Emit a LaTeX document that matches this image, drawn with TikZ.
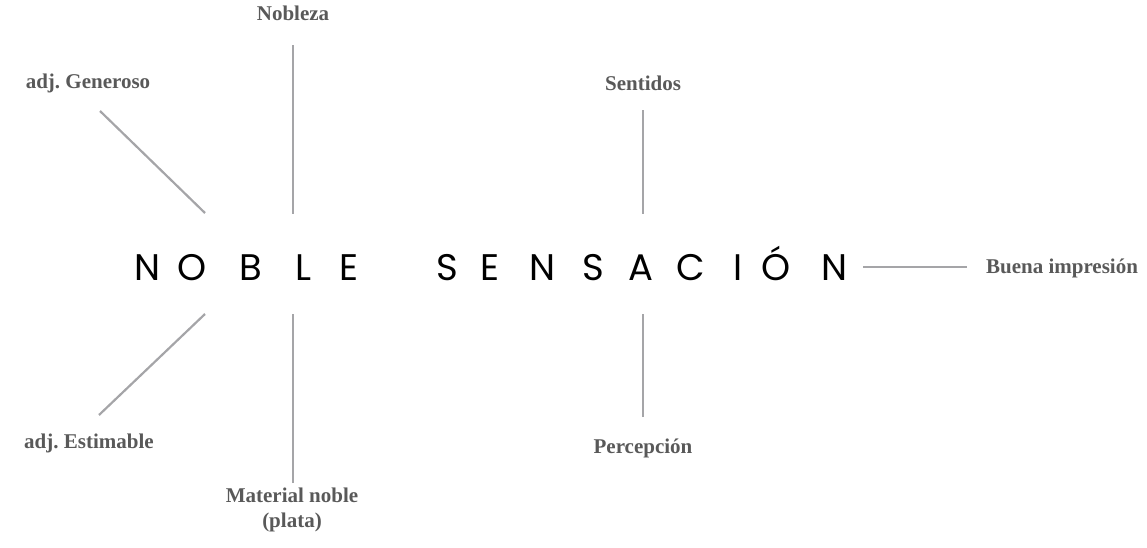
\documentclass[tikz,border=0pt]{standalone}
\usepackage{fontspec}
\setmainfont{Liberation Serif}
\newfontfamily\titlefont{Poppins}
\frenchspacing

\definecolor{labelgray}{HTML}{595959}
\definecolor{linegray}{HTML}{A5A5A8}

\tikzset{
  lab/.style={font=\fontsize{21}{25}\selectfont\bfseries, text=labelgray, align=center, inner sep=0pt},
  letter/.style={font=\titlefont\fontsize{37}{37}\selectfont, inner sep=0pt, anchor=base},
  link/.style={draw=linegray, line width=2.2pt},
}

\begin{document}
\begin{tikzpicture}[x=1pt,y=-1pt]
   \useasboundingbox (0,0) rectangle (1147,547);

   % title, letter by letter
   \foreach \ch/\x [count=\i] in {N/148,O/192,B/251,L/303,E/349,S/447,E/490,N/542,S/593,A/641,C/691,I/738,Ó/776,N/834}
      \node[letter] (t\i) at (\x,280) {\ch};

   \node[lab] (nobleza) at (293,13) {Nobleza};
   \node[lab] (generoso) at (88,83) {adj. Generoso};
   \node[lab] (estimable) at (89,443) {adj. Estimable};
   \node[lab] (material) at (292,510) {Material noble\\(plata)};
   \node[lab] (sentidos) at (643,83) {Sentidos};
   \node[lab] (percepcion) at (643,448) {Percepción};
   \node[lab] (buena) at (1062,268) {Buena impresión};

   \coordinate (gen1) at (100,111);  \coordinate (gen2) at (205,213);
   \coordinate (nob1) at (293,45);   \coordinate (nob2) at (293,214);
   \coordinate (est1) at (99,415);   \coordinate (est2) at (205,314);
   \coordinate (mat1) at (293,483);  \coordinate (mat2) at (293,314);
   \coordinate (sen1) at (643,110);  \coordinate (sen2) at (643,214);
   \coordinate (per1) at (643,417);  \coordinate (per2) at (643,314);
   \coordinate (bue1) at (967,267);  \coordinate (bue2) at (863,267);

   \draw[link] (gen1) -- (gen2);
   \draw[link] (nob1) -- (nob2);
   \draw[link] (est1) -- (est2);
   \draw[link] (mat1) -- (mat2);
   \draw[link] (sen1) -- (sen2);
   \draw[link] (per1) -- (per2);
   \draw[link] (bue1) -- (bue2);
\end{tikzpicture}
\end{document}
